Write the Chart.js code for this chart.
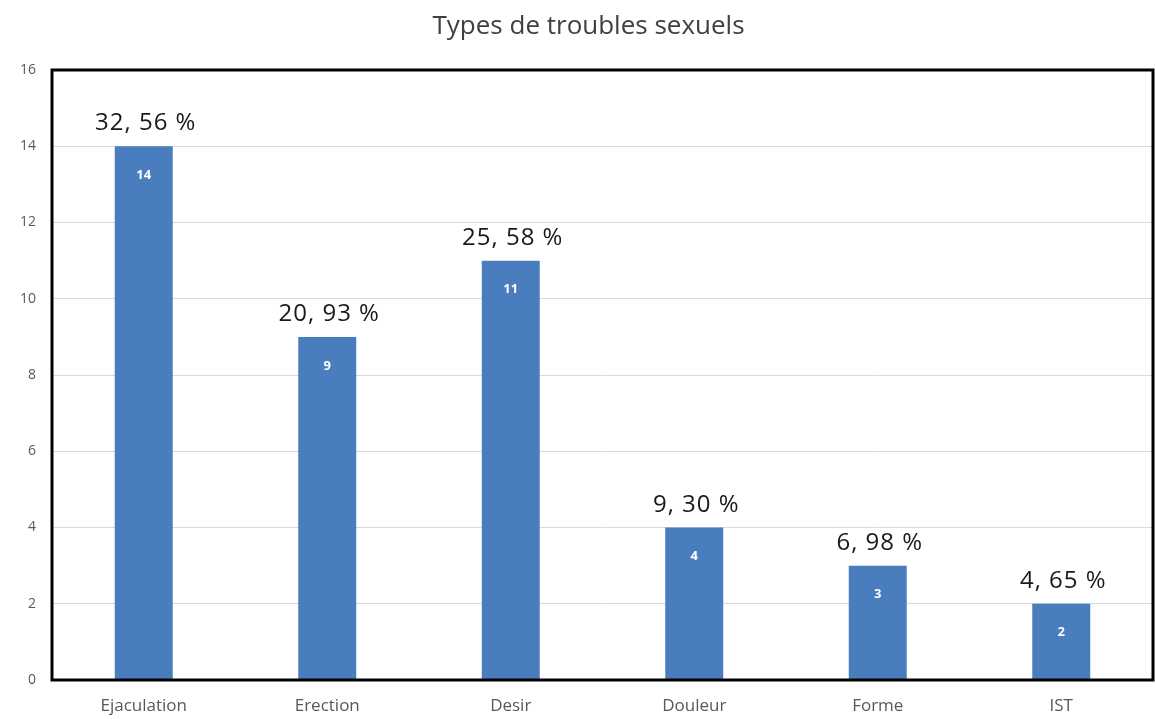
<!DOCTYPE html>
<html lang="fr">
<head>
<meta charset="utf-8">
<title>Types de troubles sexuels</title>
<script src="https://cdn.jsdelivr.net/npm/chart.js@4.4.1/dist/chart.umd.min.js"></script>
<style>
  html, body { margin: 0; padding: 0; background: #ffffff; }
  #wrap { width: 1155px; height: 719px; }
</style>
</head>
<body>
<div id="wrap"><canvas id="graphique" width="1155" height="719"></canvas></div>
<script>
const titre = "Types de troubles sexuels";
const categories = ["Ejaculation", "Erection", "Desir", "Douleur", "Forme", "IST"];
const effectifs = [14, 9, 11, 4, 3, 2];
const pourcentages = ["32, 56 %", "20, 93 %", "25, 58 %", "9, 30 %", "6, 98 %", "4, 65 %"];

// titre centre un peu a droite, au-dessus du cadre
const entete = {
  id: "entete",
  afterDraw(chart) {
    const { ctx, chartArea: a } = chart;
    ctx.save();
    ctx.fillStyle = "#404040";
    ctx.font = "26px 'Open Sans'";
    ctx.textAlign = "center";
    ctx.textBaseline = "middle";
    ctx.fillText(titre, (a.left + a.right) / 2 - 14, 27);
    ctx.restore();
  }
};

// cadre noir autour de la zone du graphique
const cadre = {
  id: "cadre",
  afterDraw(chart) {
    const { ctx, chartArea: a } = chart;
    ctx.save();
    ctx.strokeStyle = "#000000";
    ctx.lineWidth = 3;
    ctx.strokeRect(a.left, a.top, a.right - a.left, a.bottom - a.top);
    ctx.restore();
  }
};

// etiquettes : pourcentage au-dessus, effectif dans la barre
const etiquettes = {
  id: "etiquettes",
  afterDatasetsDraw(chart) {
    const { ctx } = chart;
    const meta = chart.getDatasetMeta(0);
    ctx.save();
    ctx.textAlign = "center";
    meta.data.forEach((bar, i) => {
      ctx.fillStyle = "#1a1a1a";
      ctx.font = "24px 'Open Sans'";
      ctx.letterSpacing = "1px";
      ctx.textBaseline = "alphabetic";
      ctx.fillText(pourcentages[i], bar.x + 2, bar.y - 16);
      ctx.fillStyle = "#ffffff";
      ctx.font = "bold 13px 'Open Sans'";
      ctx.letterSpacing = "0px";
      ctx.textBaseline = "middle";
      ctx.fillText(effectifs[i], bar.x, bar.y + 29);
    });
    ctx.restore();
  }
};

new Chart(document.getElementById("graphique"), {
  type: "bar",
  data: {
    labels: categories,
    datasets: [{
      data: effectifs,
      backgroundColor: "#4a7dbd",
      categoryPercentage: 1,
      barPercentage: 0.316
    }]
  },
  options: {
    responsive: false,
    animation: false,
    layout: { padding: { top: 70, right: 2, left: 0, bottom: 0 } },
    plugins: {
      legend: { display: false },
      tooltip: { enabled: false },
      title: { display: false }
    },
    scales: {
      x: {
        grid: { display: false },
        border: { display: false },
        ticks: { color: "#595959", font: { family: "Open Sans", size: 17 }, padding: 8 },
        afterFit(scale) { scale.height = 39; }
      },
      y: {
        min: 0,
        max: 16,
        grid: { color: "#d9d9d9", drawTicks: false },
        border: { display: false },
        ticks: { stepSize: 2, color: "#595959", font: { family: "Open Sans", size: 14 }, padding: 16 },
        afterFit(scale) { scale.width = 52; }
      }
    }
  },
  plugins: [entete, cadre, etiquettes]
});
</script>
</body>
</html>
